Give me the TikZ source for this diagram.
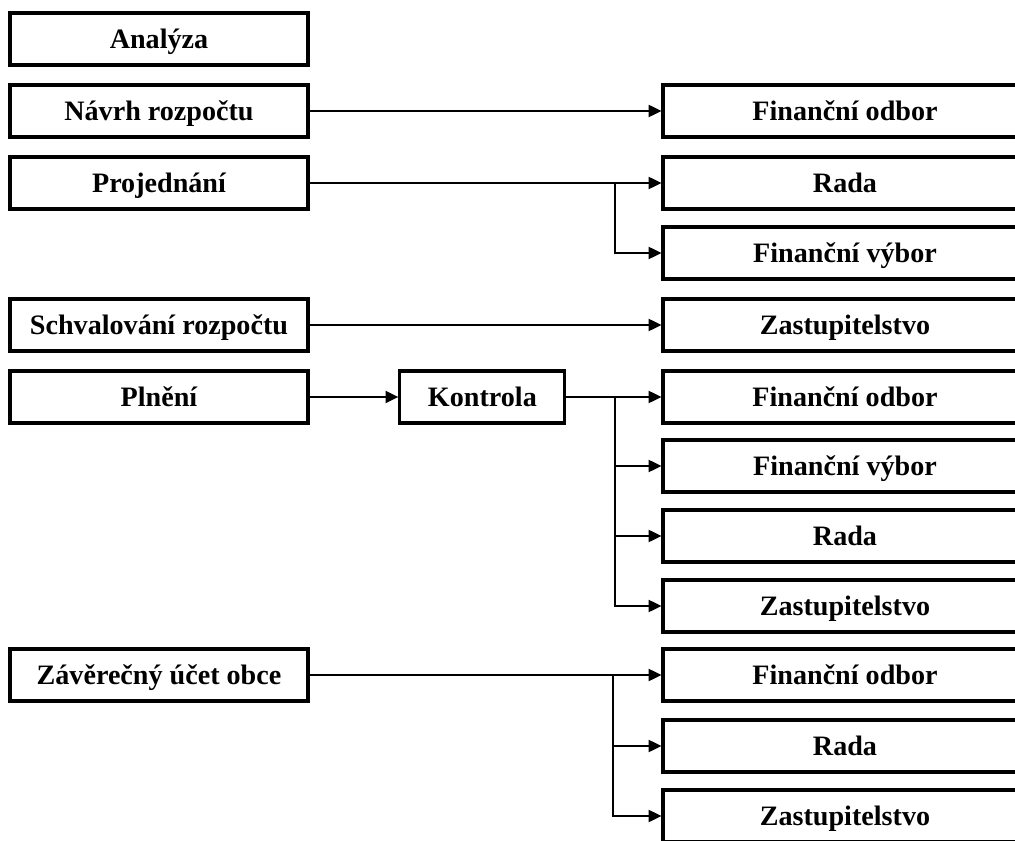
\documentclass[tikz,border=0pt]{standalone}
\usepackage{fontspec}
\setmainfont{Liberation Serif}
\usetikzlibrary{arrows.meta, positioning, calc}
\tikzset{
  every picture/.style={line width=1.4pt},
  box/.style={draw=black, fill=white, line width=2.2pt, align=center, inner sep=0pt,
    minimum height=1.3cm, text height=18pt, text depth=4.8pt,
    font=\fontsize{20}{24}\selectfont\bfseries},
  lbox/.style={box, minimum width=7.45cm},
  rbox/.style={box, minimum width=9.1cm},
  arrow/.style={-{Triangle[length=3.2mm, width=3mm]}, draw=black, line width=1.4pt},
}
\begin{document}
\begin{tikzpicture}
  \useasboundingbox (0,0) rectangle (25.375,-21.025);
  \clip (0,0) rectangle (25.375,-21.025);
  % left column
  \node[lbox] (analyza) at (3.975,-0.975) {Analýza};
  \node[lbox] (navrh) at (3.975,-2.775) {Návrh rozpočtu};
  \node[lbox] (projed) at (3.975,-4.575) {Projednání};
  \node[lbox] (schval) at (3.975,-8.125) {Schvalování rozpočtu};
  \node[lbox] (plneni) at (3.975,-9.925) {Plnění};
  \node[lbox] (zaver) at (3.975,-16.875) {Závěrečný účet obce};
  \node[box, minimum width=4.125cm] (kontrola) at (12.06,-9.925) {Kontrola};
  % right column
  \node[rbox] (odbor1) at (21.125,-2.775) {Finanční odbor};
  \node[rbox] (rada1) at (21.125,-4.575) {Rada};
  \node[rbox] (vybor1) at (21.125,-6.325) {Finanční výbor};
  \node[rbox] (zastup1) at (21.125,-8.125) {Zastupitelstvo};
  \node[rbox] (odbor2) at (21.125,-9.925) {Finanční odbor};
  \node[rbox] (vybor2) at (21.125,-11.65) {Finanční výbor};
  \node[rbox] (rada2) at (21.125,-13.4) {Rada};
  \node[rbox] (zastup2) at (21.125,-15.15) {Zastupitelstvo};
  \node[rbox] (odbor3) at (21.125,-16.875) {Finanční odbor};
  \node[rbox] (rada3) at (21.125,-18.65) {Rada};
  \node[rbox] (zastup3) at (21.125,-20.4) {Zastupitelstvo};
  % branch points
  \coordinate (b1) at (15.375,-4.575);
  \coordinate (b2) at (15.375,-9.925);
  \coordinate (b3) at (15.325,-16.875);
  % connectors
  \draw[arrow] (navrh) -- (odbor1);
  \draw[arrow] (projed) -- (rada1);
  \draw[arrow] (b1) |- (vybor1);
  \draw[arrow] (schval) -- (zastup1);
  \draw[arrow] (plneni) -- (kontrola);
  \draw[arrow] (kontrola) -- (odbor2);
  \draw[arrow] (b2) |- (vybor2);
  \draw[arrow] (b2) |- (rada2);
  \draw[arrow] (b2) |- (zastup2);
  \draw[arrow] (zaver) -- (odbor3);
  \draw[arrow] (b3) |- (rada3);
  \draw[arrow] (b3) |- (zastup3);
\end{tikzpicture}
\end{document}
